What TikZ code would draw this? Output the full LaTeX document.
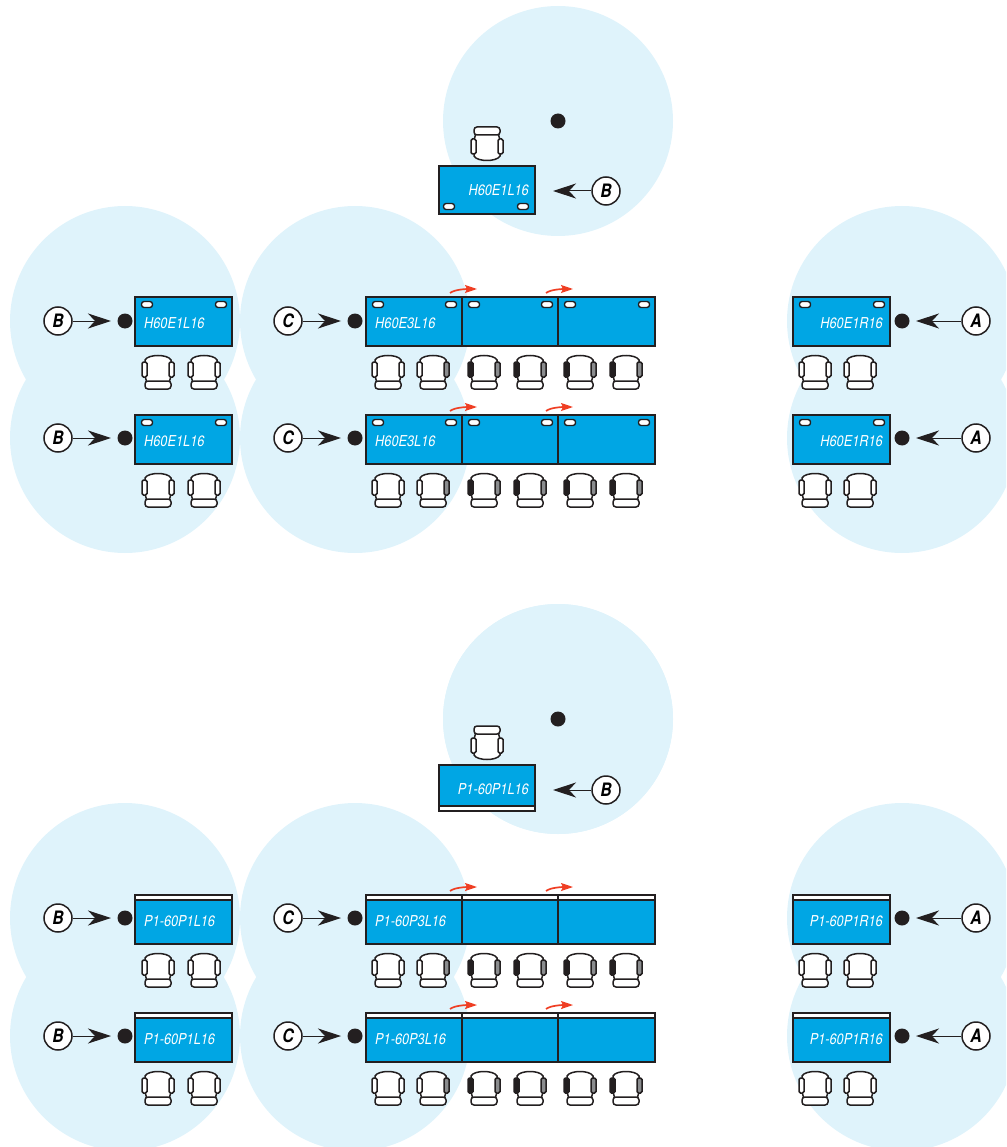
\documentclass[tikz,border=0pt]{standalone}
\usepackage{fontspec}
\setmainfont[FakeStretch=0.85]{TeX Gyre Heros}
\usepackage{tikz}
\usetikzlibrary{positioning, arrows.meta}

\definecolor{zoneblue}{HTML}{DFF3FB}
\definecolor{deskblue}{HTML}{00A6E4}
\definecolor{inkblack}{HTML}{231F20}
\definecolor{swingred}{HTML}{EF3E23}
\definecolor{armmid}{HTML}{8A8C8E}

\tikzset{
    deskline/.style={line width=1.6pt, draw=inkblack},
    chairline/.style={line width=1.5pt, draw=inkblack},
    deskbox/.style={deskline, fill=deskblue, rectangle, inner sep=0pt, outer sep=0pt, minimum height=49pt},
    deskname/.style={text=white, inner sep=0pt, font=\fontsize{15}{15}\selectfont\itshape},
    grommet/.style={line width=1.4pt, draw=inkblack, fill=white, rectangle, rounded corners=2.6pt, inner sep=0pt, minimum width=11pt, minimum height=6pt},
    plugdot/.style={circle, fill=inkblack, inner sep=0pt, minimum size=15pt, outer sep=6.5pt},
    callout/.style={circle, draw=inkblack, line width=1.5pt, fill=white, inner sep=0pt, minimum size=28pt, font=\fontsize{18.5}{18.5}\selectfont\bfseries\itshape},
    callarrow/.style={line width=1pt, draw=inkblack, -{Stealth[length=23pt, width=15pt, inset=7pt]}},
    swing/.style={line width=1.7pt, draw=swingred, -{Stealth[length=12pt, width=8pt, inset=2pt]}},
    pics/seat/.style 2 args={code={
        \draw[chairline, fill=white] (5,29) -- (3,22) -- (3,6) .. controls (6,0) and (26,0) .. (29,6) -- (29,22) -- (27,29) -- cycle;
        \draw[chairline, fill=white, rounded corners=3pt] (3,27) rectangle (29,35);
        \draw[chairline, fill=#1, rounded corners=1.5pt] (0,8) rectangle (5,23);
        \draw[chairline, fill=#2, rounded corners=1.5pt] (27,8) rectangle (32,23);
    }}
}

% grommets for the H desks, front strip for the P desks
\newcommand{\hfit}[1]{
    \node[grommet] (#1gl) at ([shift={(12pt,-7.5pt)}]#1.north west) {};
    \node[grommet] (#1gr) at ([shift={(-11pt,-7.5pt)}]#1.north east) {};
}
\newcommand{\pfit}[1]{
    \draw[deskline, fill=white] (#1.north west) rectangle ([yshift=-5pt]#1.north east);
}
\newcommand{\swingarrow}[1]{
    \coordinate (#1s) at ([shift={(-12pt,4pt)}]#1.north east);
    \coordinate (#1e) at ([shift={(15pt,8pt)}]#1.north east);
    \draw[swing] (#1s) .. controls ([shift={(5pt,4pt)}]#1s) and ([shift={(-8pt,0pt)}]#1e) .. (#1e);
}
\newcommand{\deskrow}[7]{
    % left single
    \node[deskbox, minimum width=97pt, anchor=north west] (#1l) at (135,#2) {};
    #4{#1l}
    \node[deskname, anchor=west] (#1ln) at ([shift={(9pt,-2pt)}]#1l.west) {#5};
    \node[plugdot] (#1dl) at (125,#3) {};
    \node[callout] (#1cl) at (58,#3) {B};
    \draw[callarrow] (#1cl) -- (#1dl);
    % three in a row
    \node[deskbox, minimum width=96pt, anchor=north west] (#1a) at (366,#2) {};
    \node[deskbox, minimum width=96pt, right=0pt of #1a] (#1b) {};
    \node[deskbox, minimum width=97pt, right=0pt of #1b] (#1x) {};
    #4{#1a} #4{#1b} #4{#1x}
    \node[deskname, anchor=west] (#1an) at ([shift={(9pt,-2pt)}]#1a.west) {#6};
    \swingarrow{#1a}
    \swingarrow{#1b}
    \node[plugdot] (#1dm) at (355,#3) {};
    \node[callout] (#1cm) at (288,#3) {C};
    \draw[callarrow] (#1cm) -- (#1dm);
    % right single
    \node[deskbox, minimum width=97pt, anchor=north west] (#1r) at (793,#2) {};
    #4{#1r}
    \node[deskname, anchor=east] (#1rn) at ([shift={(-7pt,-2pt)}]#1r.east) {#7};
    \node[plugdot] (#1dr) at (902,#3) {};
    \node[callout] (#1cr) at (976,#3) {A};
    \draw[callarrow] (#1cr) -- (#1dr);
    % chairs
    \foreach \cx/\la/\ra in {142/white/white, 188/white/white, 372/white/white, 417/white/armmid,
        468/inkblack/armmid, 514/inkblack/armmid, 564/inkblack/armmid, 610/inkblack/armmid,
        799/white/white, 844/white/white} {
        \pic at (\cx,#2+57) {seat={\la}{\ra}};
    }
}
% one desk above the others, seated from the top
\newcommand{\topdesk}[6]{
    \fill[zoneblue] (558,#1) circle (115);
    \node[plugdot] (#5d) at (558,#1) {};
    \node[deskbox, minimum width=96pt, minimum height=#3pt, anchor=north west] (#5) at (439,#2) {};
    \pic[yscale=-1] at (471,#2-4) {seat={white}{white}};
    #6
    \node[deskname, anchor=east] (#5n) at ([shift={(-6pt,#3pt/2-24pt)}]#5.center -| #5.east) {#4};
    \coordinate (#5t) at (553,#2+25);
    \node[callout] (#5c) at (606,#2+25) {B};
    \draw[callarrow] (#5c) -- (#5t);
}

\begin{document}
\begin{tikzpicture}[x=1pt, y=-1pt]
    \useasboundingbox (0,0) rectangle (1006,1147);
    \clip (0,0) rectangle (1006,1147);

    \foreach \zy in {321,438,918,1036} {
        \foreach \zx in {125,355,902} {
            \fill[zoneblue] (\zx,\zy) circle (115);
        }
    }
    \fill[zoneblue] (558,719) circle (115);

    \topdesk{121}{166}{48}{H60E1L16}{hdesk}{
        \node[grommet] (hdeskgl) at ([shift={(10pt,7.5pt)}]hdesk.south west) {};
        \node[grommet] (hdeskgr) at ([shift={(-12pt,7.5pt)}]hdesk.south east) {};
    }
    \topdesk{719}{765}{46}{P1-60P1L16}{pdesk}{
        \draw[deskline, fill=white] (pdesk.south west) rectangle ([yshift=5pt]pdesk.south east);
    }

    \deskrow{ra}{297}{321}{\hfit}{H60E1L16}{H60E3L16}{H60E1R16}
    \deskrow{rb}{415}{438}{\hfit}{H60E1L16}{H60E3L16}{H60E1R16}
    \deskrow{rc}{895}{918}{\pfit}{P1-60P1L16}{P1-60P3L16}{P1-60P1R16}
    \deskrow{rd}{1013}{1036}{\pfit}{P1-60P1L16}{P1-60P3L16}{P1-60P1R16}
\end{tikzpicture}
\end{document}
